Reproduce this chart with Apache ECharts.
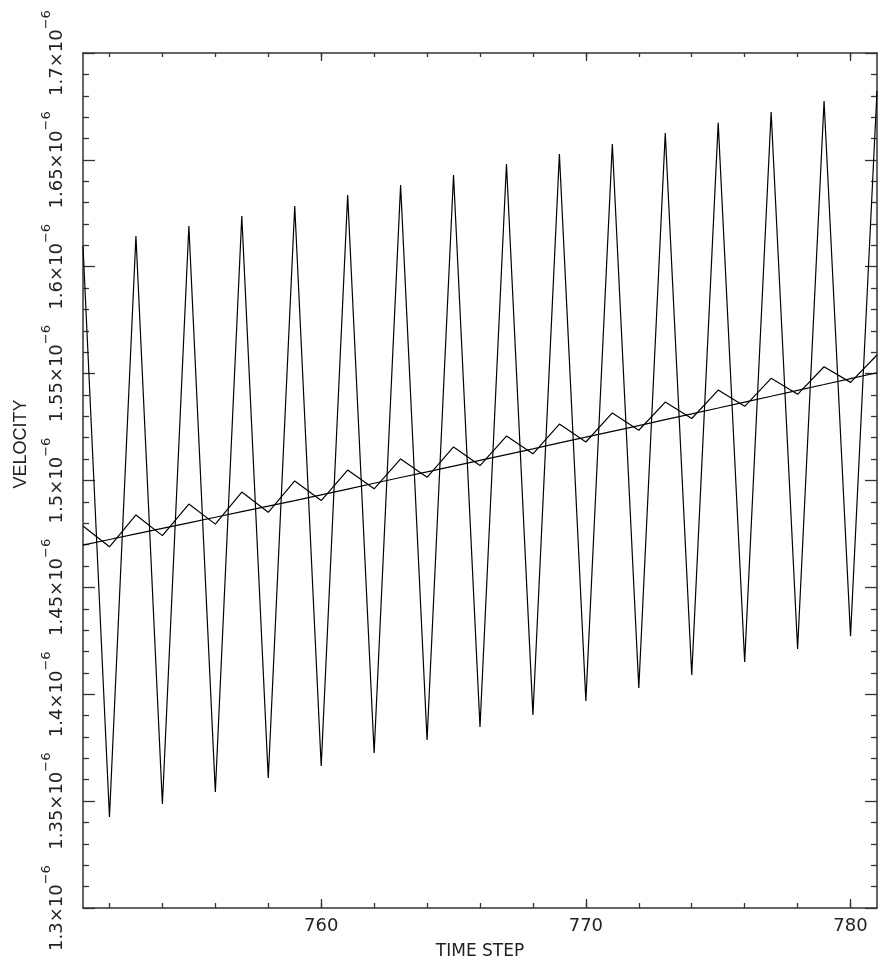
<!DOCTYPE html>
<html>
<head>
<meta charset="utf-8">
<script src="https://cdn.jsdelivr.net/npm/echarts@6/dist/echarts.min.js"></script>
<style>
html, body { margin: 0; padding: 0; background: #fff; }
#chart { width: 878px; height: 972px; }
</style>
</head>
<body>
<div id="chart"></div>
<script>
// velocity values are in units of 1e-6
var steps = [751, 752, 753, 754, 755, 756, 757, 758, 759, 760,
	761, 762, 763, 764, 765, 766, 767, 768, 769, 770,
	771, 772, 773, 774, 775, 776, 777, 778, 779, 780, 781];

// large oscillation
var velocityA = [1.6097, 1.3426, 1.6144, 1.3487, 1.6191, 1.3543, 1.6237, 1.3608, 1.6284, 1.3664,
	1.6336, 1.3725, 1.6382, 1.3786, 1.6429, 1.3847, 1.6481, 1.3903, 1.6527, 1.3968,
	1.6574, 1.4029, 1.6626, 1.4090, 1.6673, 1.4151, 1.6724, 1.4212, 1.6775, 1.4272, 1.6822];

// small oscillation
var velocityB = [1.4787, 1.4690, 1.4839, 1.4742, 1.4890, 1.4796, 1.4946, 1.4851, 1.4998, 1.4906,
	1.5049, 1.4961, 1.5101, 1.5015, 1.5157, 1.5070, 1.5208, 1.5125, 1.5264, 1.5180,
	1.5316, 1.5235, 1.5367, 1.5290, 1.5423, 1.5347, 1.5478, 1.5403, 1.5532, 1.5459, 1.5587];

// smooth trend
var velocityC = [1.4698, 1.4724, 1.4750, 1.4776, 1.4802, 1.4828, 1.4854, 1.4880, 1.4906, 1.4933,
	1.4960, 1.4987, 1.5014, 1.5040, 1.5067, 1.5094, 1.5121, 1.5148, 1.5176, 1.5203,
	1.5230, 1.5257, 1.5285, 1.5312, 1.5339, 1.5367, 1.5394, 1.5422, 1.5449, 1.5477, 1.5504];

var xMajorTicks = [760, 770, 780];
var xMinorTicks = [752, 754, 756, 758, 760, 762, 764, 766, 768, 770, 772, 774, 776, 778, 780];

var chart = echarts.init(document.getElementById('chart'), null, { renderer: 'canvas' });

function pairs(vals) {
	var out = [];
	for (var i = 0; i < steps.length; i++) {
		out.push([steps[i], vals[i]]);
	}
	return out;
}

var fontFamily = 'DejaVu Sans';
var axisColor = '#333';

function xAxisDef(position, ticks, length, showLine, showLabel, name) {
	return {
		type: 'value',
		position: position,
		min: 751,
		max: 781,
		name: name || '',
		nameLocation: 'middle',
		nameGap: 35,
		nameTextStyle: { fontFamily: fontFamily, fontSize: 17, color: '#222' },
		axisLine: { show: showLine, onZero: false, lineStyle: { color: axisColor, width: 1.5 } },
		axisTick: { show: true, inside: true, length: length, customValues: ticks, lineStyle: { color: axisColor, width: 1.3 } },
		axisLabel: {
			show: showLabel, customValues: ticks, margin: 9,
			fontFamily: fontFamily, fontSize: 18, color: '#222'
		},
		splitLine: { show: false }
	};
}

function yAxisDef(position, showLabel) {
	return {
		type: 'value',
		position: position,
		min: 1.3,
		max: 1.7,
		interval: 0.05,
		axisLine: { show: true, onZero: false, lineStyle: { color: axisColor, width: 1.5 } },
		axisTick: { show: true, inside: true, length: 12, lineStyle: { color: axisColor, width: 1.3 } },
		minorTick: { show: true, splitNumber: 5, length: 6, lineStyle: { color: axisColor, width: 1.3 } },
		axisLabel: {
			show: showLabel,
			rotate: 90,
			margin: 17,
			formatter: function (v) {
				return '{m|' + parseFloat(v.toFixed(2)) + '×10}{s|−6}';
			},
			rich: {
				m: { fontFamily: fontFamily, fontSize: 18, color: '#222', lineHeight: 26, verticalAlign: 'bottom' },
				s: { fontFamily: fontFamily, fontSize: 13, color: '#222', lineHeight: 13, verticalAlign: 'top' }
			}
		},
		splitLine: { show: false },
		minorSplitLine: { show: false }
	};
}

var lineStyle = { color: '#000', width: 1.2 };

var option = {
	backgroundColor: '#fff',
	animation: false,
	grid: { left: 83, right: 1, top: 53, bottom: 64, outerBoundsMode: 'none' },
	graphic: [{
		type: 'text',
		x: 21,
		y: 444,
		rotation: Math.PI / 2,
		style: {
			text: 'VELOCITY',
			fontFamily: 'Liberation Sans Narrow, Liberation Sans',
			fontSize: 18,
			fill: '#222',
			textAlign: 'center',
			textVerticalAlign: 'middle'
		}
	}],
	xAxis: [
		xAxisDef('bottom', xMajorTicks, 9, true, true, 'TIME STEP'),
		xAxisDef('bottom', xMinorTicks, 5, false, false),
		xAxisDef('top', xMajorTicks, 8, true, false),
		xAxisDef('top', xMinorTicks, 4, false, false)
	],
	yAxis: [
		yAxisDef('left', true),
		yAxisDef('right', false)
	],
	series: [
		{ type: 'line', data: pairs(velocityA), showSymbol: false, lineStyle: lineStyle, clip: true },
		{ type: 'line', data: pairs(velocityB), showSymbol: false, lineStyle: lineStyle, clip: true },
		{ type: 'line', data: pairs(velocityC), showSymbol: false, lineStyle: lineStyle, clip: true }
	]
};

chart.setOption(option);
</script>
</body>
</html>
